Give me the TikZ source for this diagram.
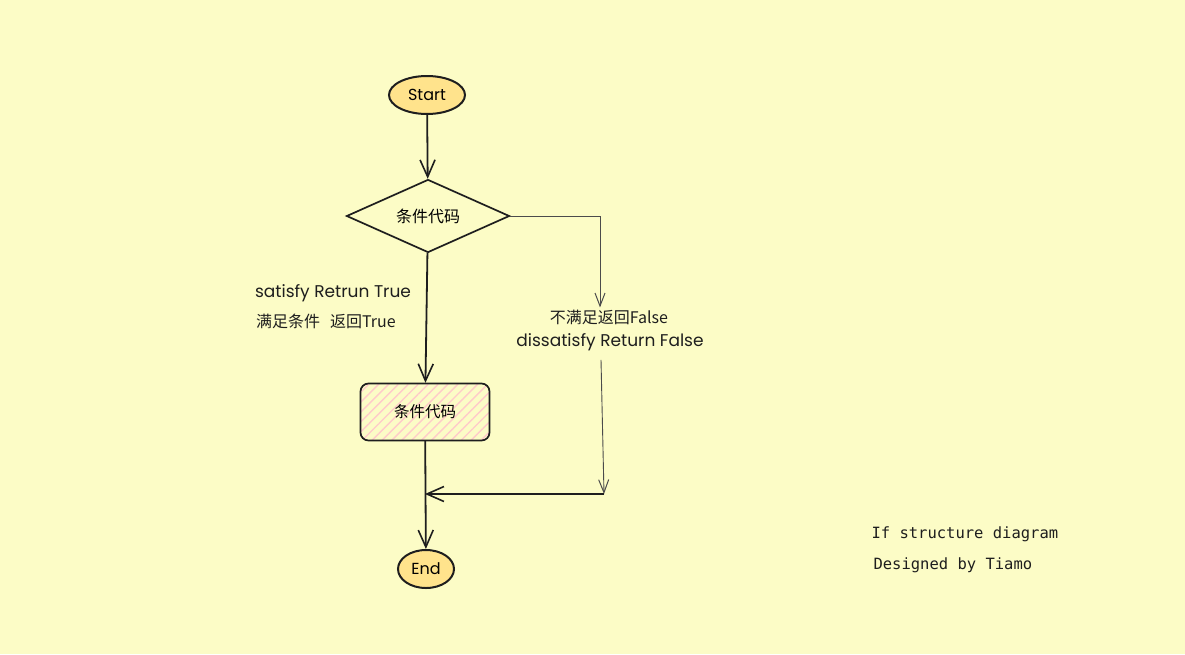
\documentclass[tikz,border=0pt]{standalone}
\usepackage{fontspec}
\setmainfont{Poppins}
\newfontfamily\cjk{Noto Sans CJK SC}
\newfontfamily\codefont{DejaVu Sans Mono}
\usetikzlibrary{shapes.geometric,arrows.meta,patterns.meta}
\definecolor{paper}{HTML}{FCFCC6}
\definecolor{termfill}{HTML}{FFE38C}
\definecolor{ink}{HTML}{1E1E1E}
\definecolor{hatch}{HTML}{FFCACA}

\begin{document}
\begin{tikzpicture}[x=1pt, y=-1pt,
  terminal/.style={ellipse, draw=ink, line width=2pt, fill=termfill, inner sep=0pt,
    font=\fontsize{16}{18}\selectfont},
  decision/.style={diamond, draw=ink, line width=1.7pt, aspect=2.23, inner sep=0pt,
    minimum width=163pt, minimum height=73pt, font=\cjk\fontsize{16}{18}\selectfont},
  process/.style={rectangle, rounded corners=8pt, draw=ink, line width=1.7pt,
    minimum width=129pt, minimum height=57pt, font=\cjk\fontsize{15.5}{18}\selectfont,
    pattern={Lines[angle=45, distance=7pt, line width=1.4pt]}, pattern color=hatch},
  flow/.style={-{Straight Barb[length=17pt, width=15pt, line width=1.6pt]}, draw=ink, line width=1.8pt},
  thinflow/.style={-{Straight Barb[length=13pt, width=10pt, line width=1pt]}, draw=ink!80, line width=0.9pt},
  englbl/.style={inner sep=2pt, text=ink, font=\fontsize{17}{19}\selectfont},
  cnlbl/.style={inner sep=2pt, text=ink, font=\cjk\fontsize{16}{18}\selectfont},
  caption/.style={anchor=west, text=ink, font=\codefont\fontsize{15.5}{18}\selectfont}]
  % Paper
  \fill[paper] (0,0) rectangle (1185,654);
  % Shapes
  \node[terminal, minimum width=76pt, minimum height=38pt] (start) at (427,95) {Start};
  \node[decision] (cond) at (428,216) {条件代码};
  \node[process] (body) at (425,412) {条件代码};
  \node[terminal, minimum width=56pt, minimum height=38pt] (stop) at (426,569) {End};
  % Branch labels
  \node[englbl] (yeslbl) at (333,293) {satisfy Retrun True};
  \node[cnlbl] (yescn) at (326,321) {满足条件\hspace{10pt}返回True};
  \node[cnlbl] (nocn) at (609,317) {不满足返回False};
  \node[englbl] (nolbl) at (610,342) {dissatisfy Return False};
  % Merge points
  \coordinate (turn) at (604,494);
  \coordinate (join) at (425,494);
  % Connectors
  \draw[flow] (start) -- (cond);
  \draw[flow] (cond) -- (body);
  \draw[thinflow] (cond.east) -| ([xshift=-9pt]nocn.north);
  \draw[thinflow] ([xshift=-9pt, yshift=-7pt]nolbl.south) -- (turn);
  \draw[flow] (turn) -- (join);
  \draw[flow] (body) -- (stop);
  % Caption
  \node[caption] (title) at (868,534) {If structure diagram};
  \node[caption] (author) at (870,565) {Designed by Tiamo};
\end{tikzpicture}
\end{document}
